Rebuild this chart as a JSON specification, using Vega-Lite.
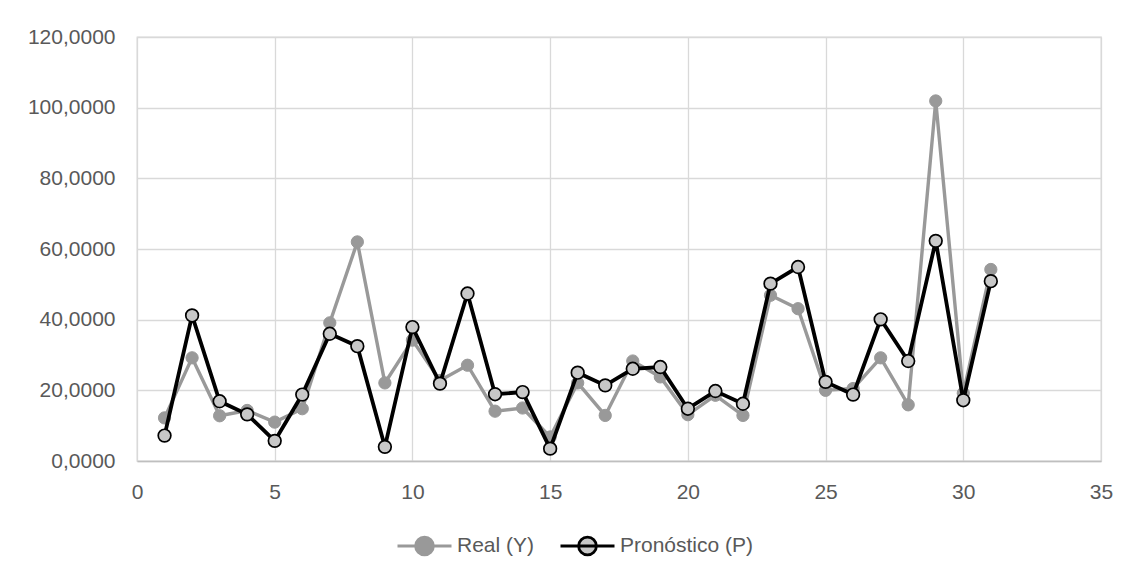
{
  "$schema": "https://vega.github.io/schema/vega-lite/v6.json",
  "autosize": "none",
  "width": 964,
  "height": 424,
  "padding": {"left": 137, "top": 37, "right": 32, "bottom": 118},
  "background": "white",
  "config": {
    "font": "Liberation Sans",
    "view": {"stroke": "#d9d9d9", "strokeWidth": 1.3},
    "axis": {"labelFont": "Liberation Sans", "labelFontSize": 21, "labelColor": "#595959", "gridColor": "#d9d9d9", "gridWidth": 1.3, "ticks": false, "title": null}
  },
  "data": {
    "values": [
      {"x": 1, "serie": "Real (Y)", "valor": 12.2}, {"x": 2, "serie": "Real (Y)", "valor": 29.2}, {"x": 3, "serie": "Real (Y)", "valor": 12.8}, {"x": 4, "serie": "Real (Y)", "valor": 14.3}, {"x": 5, "serie": "Real (Y)", "valor": 11.0}, {"x": 6, "serie": "Real (Y)", "valor": 14.8}, {"x": 7, "serie": "Real (Y)", "valor": 39.1}, {"x": 8, "serie": "Real (Y)", "valor": 62.0}, {"x": 9, "serie": "Real (Y)", "valor": 22.1}, {"x": 10, "serie": "Real (Y)", "valor": 34.2}, {"x": 11, "serie": "Real (Y)", "valor": 22.8}, {"x": 12, "serie": "Real (Y)", "valor": 27.1}, {"x": 13, "serie": "Real (Y)", "valor": 14.1}, {"x": 14, "serie": "Real (Y)", "valor": 15.0}, {"x": 15, "serie": "Real (Y)", "valor": 6.8}, {"x": 16, "serie": "Real (Y)", "valor": 22.1}, {"x": 17, "serie": "Real (Y)", "valor": 12.9}, {"x": 18, "serie": "Real (Y)", "valor": 28.3}, {"x": 19, "serie": "Real (Y)", "valor": 23.8}, {"x": 20, "serie": "Real (Y)", "valor": 13.1}, {"x": 21, "serie": "Real (Y)", "valor": 18.6}, {"x": 22, "serie": "Real (Y)", "valor": 12.9}, {"x": 23, "serie": "Real (Y)", "valor": 46.9}, {"x": 24, "serie": "Real (Y)", "valor": 43.1}, {"x": 25, "serie": "Real (Y)", "valor": 20.0}, {"x": 26, "serie": "Real (Y)", "valor": 20.5}, {"x": 27, "serie": "Real (Y)", "valor": 29.2}, {"x": 28, "serie": "Real (Y)", "valor": 15.9}, {"x": 29, "serie": "Real (Y)", "valor": 101.9}, {"x": 30, "serie": "Real (Y)", "valor": 19.2}, {"x": 31, "serie": "Real (Y)", "valor": 54.2},
      {"x": 1, "serie": "Pronóstico (P)", "valor": 7.2}, {"x": 2, "serie": "Pronóstico (P)", "valor": 41.2}, {"x": 3, "serie": "Pronóstico (P)", "valor": 16.9}, {"x": 4, "serie": "Pronóstico (P)", "valor": 13.2}, {"x": 5, "serie": "Pronóstico (P)", "valor": 5.7}, {"x": 6, "serie": "Pronóstico (P)", "valor": 18.8}, {"x": 7, "serie": "Pronóstico (P)", "valor": 36.0}, {"x": 8, "serie": "Pronóstico (P)", "valor": 32.5}, {"x": 9, "serie": "Pronóstico (P)", "valor": 4.0}, {"x": 10, "serie": "Pronóstico (P)", "valor": 37.9}, {"x": 11, "serie": "Pronóstico (P)", "valor": 21.9}, {"x": 12, "serie": "Pronóstico (P)", "valor": 47.4}, {"x": 13, "serie": "Pronóstico (P)", "valor": 18.9}, {"x": 14, "serie": "Pronóstico (P)", "valor": 19.5}, {"x": 15, "serie": "Pronóstico (P)", "valor": 3.5}, {"x": 16, "serie": "Pronóstico (P)", "valor": 25.0}, {"x": 17, "serie": "Pronóstico (P)", "valor": 21.4}, {"x": 18, "serie": "Pronóstico (P)", "valor": 26.1}, {"x": 19, "serie": "Pronóstico (P)", "valor": 26.6}, {"x": 20, "serie": "Pronóstico (P)", "valor": 14.8}, {"x": 21, "serie": "Pronóstico (P)", "valor": 19.8}, {"x": 22, "serie": "Pronóstico (P)", "valor": 16.2}, {"x": 23, "serie": "Pronóstico (P)", "valor": 50.2}, {"x": 24, "serie": "Pronóstico (P)", "valor": 54.9}, {"x": 25, "serie": "Pronóstico (P)", "valor": 22.4}, {"x": 26, "serie": "Pronóstico (P)", "valor": 18.8}, {"x": 27, "serie": "Pronóstico (P)", "valor": 40.1}, {"x": 28, "serie": "Pronóstico (P)", "valor": 28.3}, {"x": 29, "serie": "Pronóstico (P)", "valor": 62.3}, {"x": 30, "serie": "Pronóstico (P)", "valor": 17.2}, {"x": 31, "serie": "Pronóstico (P)", "valor": 50.9}
    ]
  },
  "encoding": {
    "x": {"field": "x", "type": "quantitative", "scale": {"domain": [0, 35], "nice": false, "zero": false},
      "axis": {"values": [0, 5, 10, 15, 20, 25, 30, 35], "labelPadding": 20, "domainColor": "#bfbfbf", "domainWidth": 1.3, "labelFlush": false}},
    "y": {"field": "valor", "type": "quantitative", "scale": {"domain": [0, 120], "nice": false},
      "axis": {"values": [0, 20, 40, 60, 80, 100, 120], "domain": false, "labelPadding": 22, "labelExpr": "replace(format(datum.value, '.4f'), '.', ',')"}},
    "stroke": {"field": "serie", "type": "nominal",
      "scale": {"domain": ["Real (Y)", "Pronóstico (P)"], "range": ["#999999", "#000000"]},
      "legend": {"title": null, "orient": "none", "direction": "horizontal", "legendX": 259, "legendY": 480,
        "symbolType": "M-1,0L1,0M0.33,0A0.33,0.33,0,1,1,-0.33,0A0.33,0.33,0,1,1,0.33,0Z",
        "symbolSize": 2916, "symbolStrokeWidth": 2.8, "labelFont": "Liberation Sans", "labelFontSize": 21, "labelColor": "#595959", "labelOffset": 4, "columnPadding": 19}},
    "fill": {"field": "serie", "type": "nominal",
      "scale": {"domain": ["Real (Y)", "Pronóstico (P)"], "range": ["#999999", "#c8c8c8"]},
      "legend": {"title": null, "orient": "none", "direction": "horizontal", "legendX": 259, "legendY": 480,
        "symbolType": "M-1,0L1,0M0.33,0A0.33,0.33,0,1,1,-0.33,0A0.33,0.33,0,1,1,0.33,0Z",
        "symbolSize": 2916, "symbolStrokeWidth": 2.8, "labelFont": "Liberation Sans", "labelFontSize": 21, "labelColor": "#595959", "labelOffset": 4, "columnPadding": 19}}
  },
  "layer": [
    {"transform": [{"filter": "datum.serie === 'Real (Y)'"}], "mark": {"type": "line", "strokeWidth": 3.4}, "encoding": {"fill": {"value": null}}},
    {"transform": [{"filter": "datum.serie === 'Real (Y)'"}], "mark": {"type": "point", "shape": "circle", "size": 150, "filled": true, "strokeWidth": 1, "opacity": 1}},
    {"transform": [{"filter": "datum.serie === 'Pronóstico (P)'"}], "mark": {"type": "line", "strokeWidth": 3.8}, "encoding": {"fill": {"value": null}}},
    {"transform": [{"filter": "datum.serie === 'Pronóstico (P)'"}], "mark": {"type": "point", "shape": "circle", "size": 160, "filled": true, "strokeWidth": 1.7, "opacity": 1}}
  ]
}
